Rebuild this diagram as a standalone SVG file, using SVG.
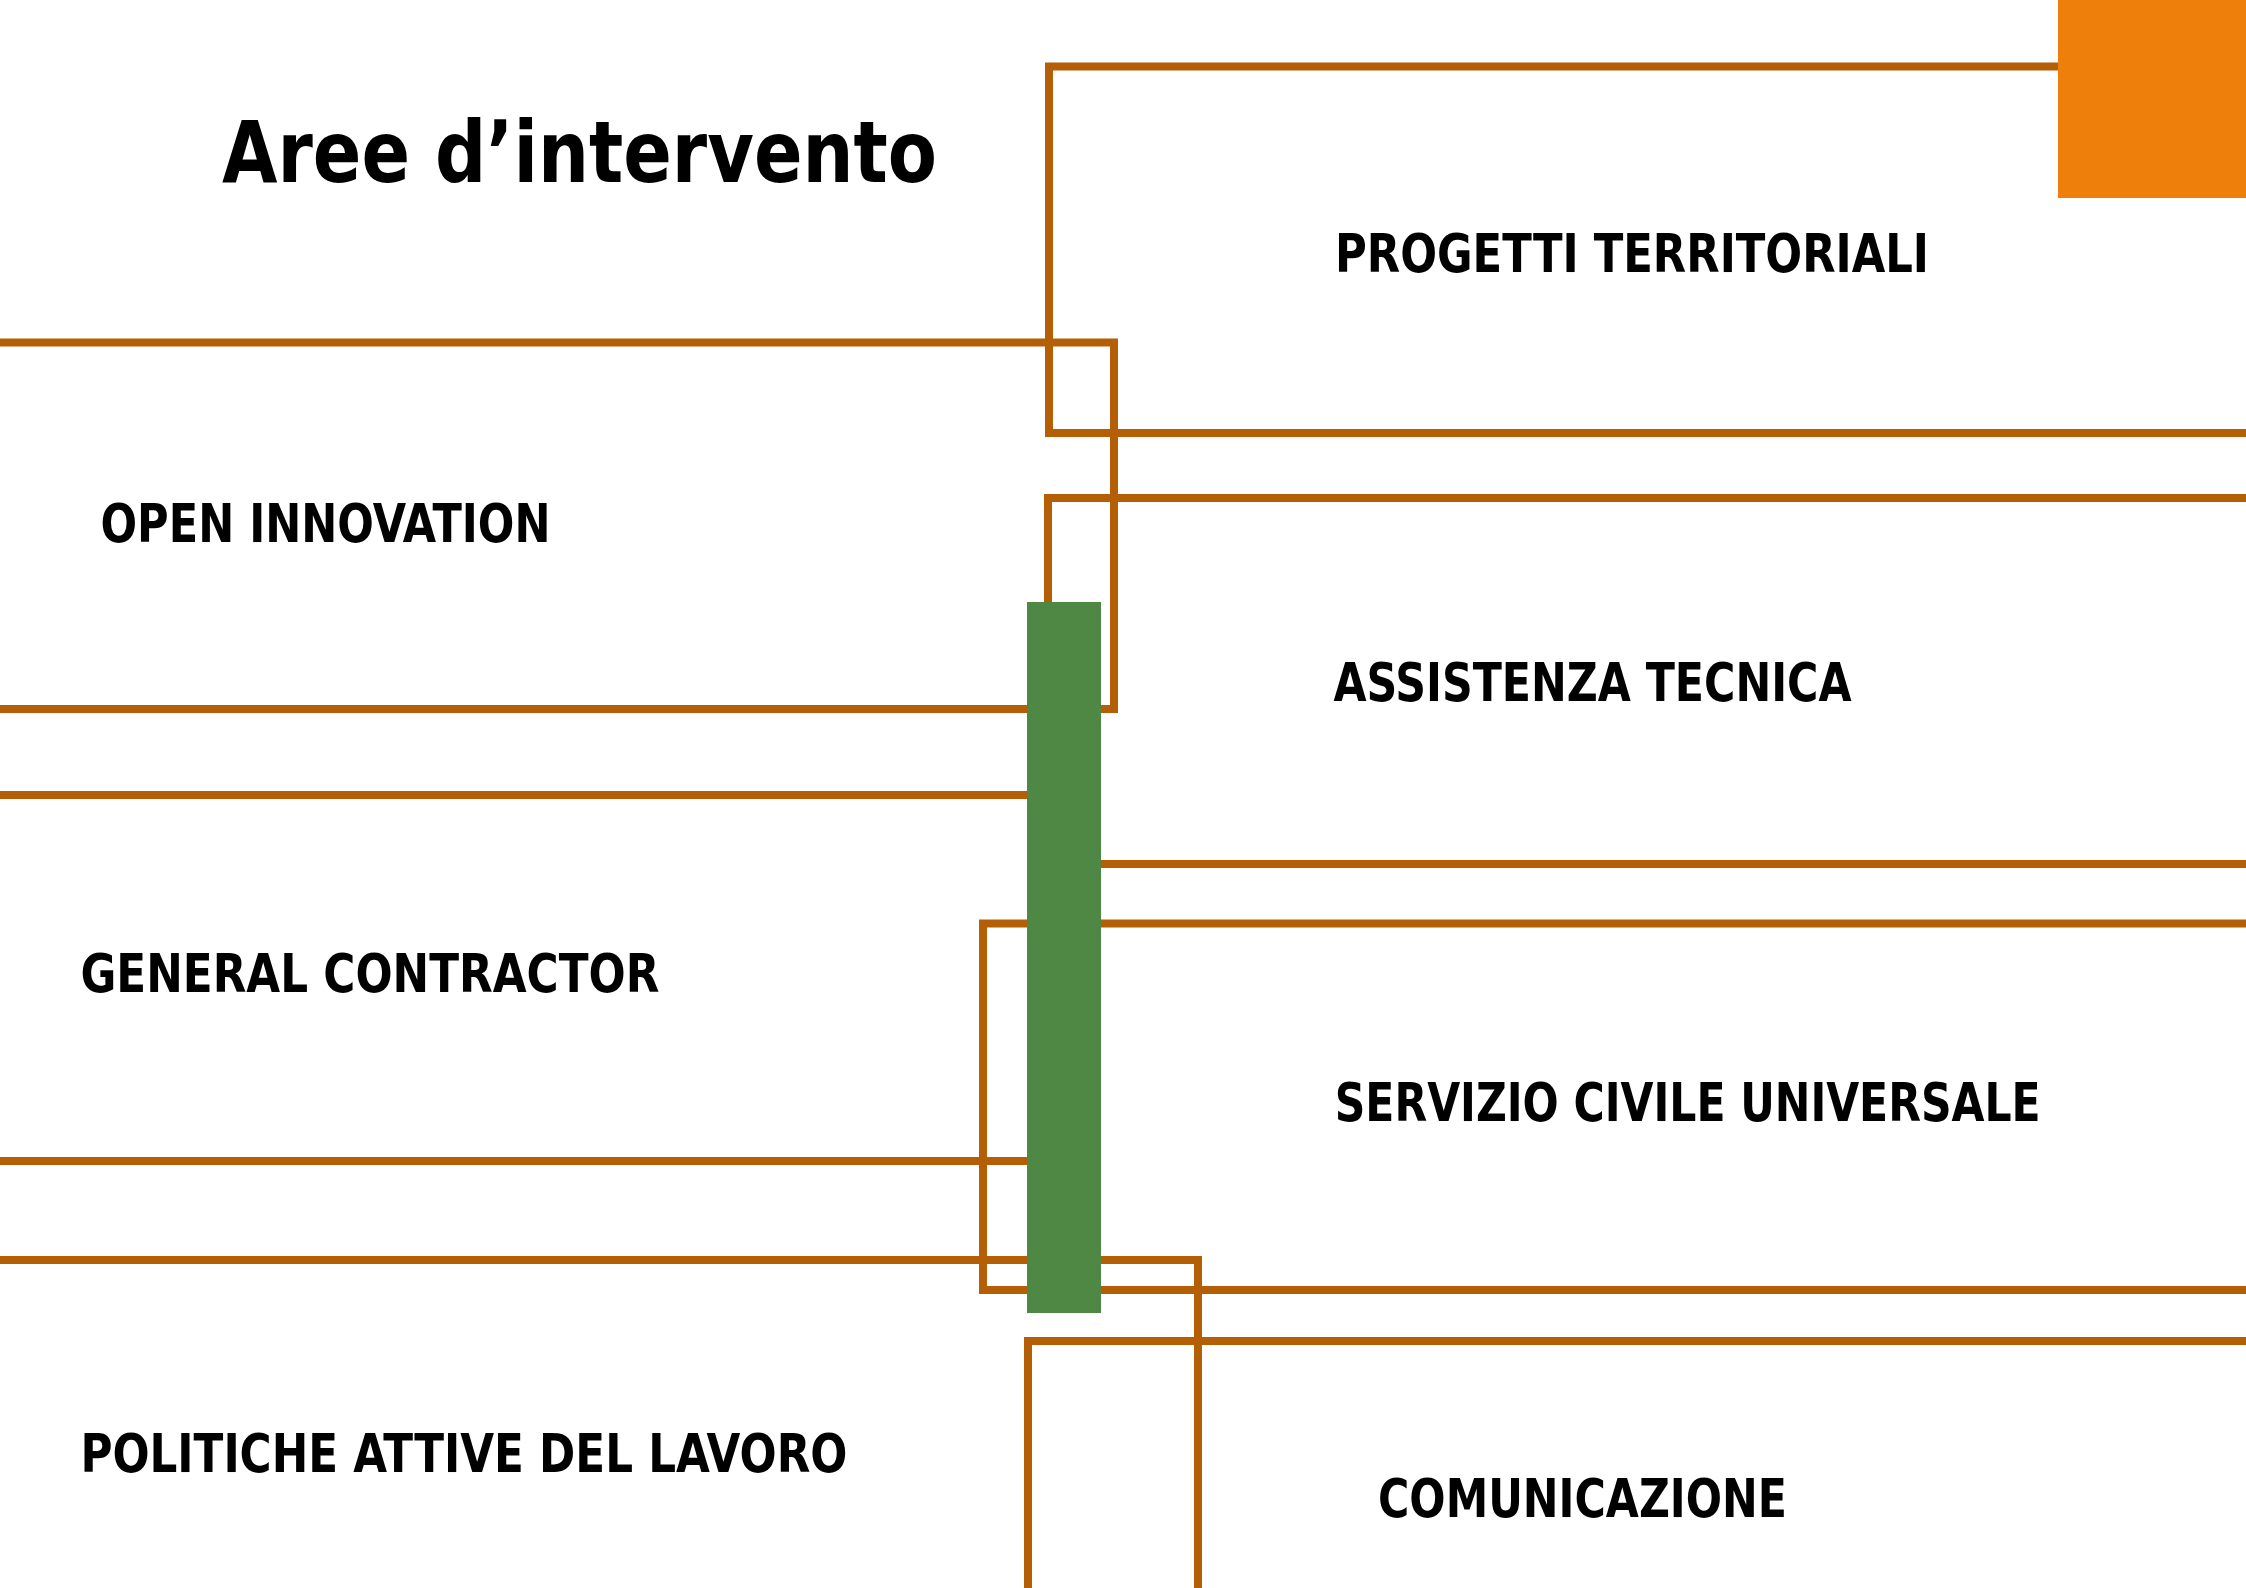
<svg xmlns="http://www.w3.org/2000/svg" width="2246" height="1588" viewBox="0 0 2246 1588">
  <style>
    .box { fill: none; stroke: #B45F06; stroke-width: 8; }
    .lbl { font-family: "DejaVu Sans Condensed", "DejaVu Sans", "Liberation Sans", sans-serif; font-stretch: condensed; font-weight: bold; font-size: 53px; fill: #000; }
    .title { font-family: "DejaVu Sans Condensed", "DejaVu Sans", "Liberation Sans", sans-serif; font-stretch: condensed; font-weight: bold; font-size: 85px; fill: #000; }
  </style>
  <rect x="0" y="0" width="2246" height="1588" fill="#FFFFFF"/>
  <g id="boxes">
    <g id="progetti-territoriali-box"><rect class="box" x="1049" y="66.5" width="1400" height="366.5"/></g>
    <g id="open-innovation-box"><rect class="box" x="-200" y="342.5" width="1314" height="366.5"/></g>
    <g id="assistenza-tecnica-box"><rect class="box" x="1048" y="498" width="1400" height="366"/></g>
    <g id="general-contractor-box"><rect class="box" x="-200" y="795" width="1264" height="366"/></g>
    <g id="servizio-civile-box"><rect class="box" x="983" y="923.5" width="1400" height="366.5"/></g>
    <g id="politiche-box"><rect class="box" x="-200" y="1260" width="1398" height="400"/></g>
    <g id="comunicazione-box"><rect class="box" x="1028" y="1341" width="1400" height="400"/></g>
  </g>
  <g id="connectors"></g>
  <g id="green-bar"><rect x="1027" y="602" width="74" height="711" fill="#4F8744"/></g>
  <g id="orange-square"><rect x="2058" y="0" width="188" height="198" fill="#EF7F0B"/></g>
  <g id="title"><text class="title" x="222" y="181.7" textLength="715" lengthAdjust="spacingAndGlyphs">Aree d’intervento</text></g>
  <g id="labels">
    <g id="progetti-territoriali"><text class="lbl" x="1335" y="272" textLength="594" lengthAdjust="spacingAndGlyphs">PROGETTI TERRITORIALI</text></g>
    <g id="open-innovation"><text class="lbl" x="100.5" y="542" textLength="450" lengthAdjust="spacingAndGlyphs">OPEN INNOVATION</text></g>
    <g id="assistenza-tecnica"><text class="lbl" x="1333.5" y="700.7" textLength="518" lengthAdjust="spacingAndGlyphs">ASSISTENZA TECNICA</text></g>
    <g id="general-contractor"><text class="lbl" x="80.4" y="992" textLength="579" lengthAdjust="spacingAndGlyphs">GENERAL CONTRACTOR</text></g>
    <g id="servizio-civile"><text class="lbl" x="1334.7" y="1121" textLength="706" lengthAdjust="spacingAndGlyphs">SERVIZIO CIVILE UNIVERSALE</text></g>
    <g id="politiche-attive"><text class="lbl" x="80.4" y="1471.7" textLength="767" lengthAdjust="spacingAndGlyphs">POLITICHE ATTIVE DEL LAVORO</text></g>
    <g id="comunicazione"><text class="lbl" x="1378" y="1516.7" textLength="409" lengthAdjust="spacingAndGlyphs">COMUNICAZIONE</text></g>
  </g>
</svg>
